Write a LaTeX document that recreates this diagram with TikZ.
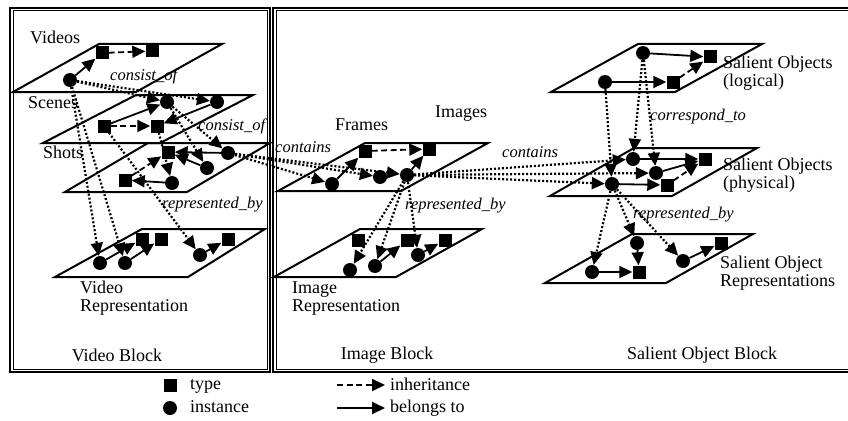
\documentclass[tikz,border=0pt]{standalone}
\usepackage{fontspec}
\setmainfont{Liberation Serif}
\usetikzlibrary{arrows.meta}
\begin{document}
\begin{tikzpicture}[x=1pt,y=-1pt,
  typ/.style={rectangle,fill=black,minimum size=13pt,inner sep=0pt},
  inst/.style={circle,fill=black,minimum size=14pt,inner sep=0pt},
  plane/.style={line width=2pt,line join=miter},
  tip/.style={-{Triangle[length=13pt,width=12pt]}},
  belongs/.style={tip,line width=1.8pt},
  inherit/.style={tip,line width=1.8pt,dash pattern=on 6pt off 3.5pt},
  rel/.style={tip,line width=2.2pt,dash pattern=on 2pt off 2pt},
  lbl/.style={font=\fontsize{18}{18}\selectfont,inner sep=0pt,align=left},
  ilbl/.style={font=\fontsize{16.5}{19}\selectfont\itshape,inner sep=0pt},
  frmout/.style={draw,line width=1.3pt},
  frmin/.style={draw,line width=0.6pt}
]
\useasboundingbox (0,0) rectangle (848,420);
% block frames (double lines)
\draw[frmout] (10,8) rectangle (270,372);
\draw[frmin] (12.8,10.8) rectangle (267.2,369.2);
\draw[frmout] (860,8) -- (273,8) -- (273,372) -- (860,372);
\draw[frmin] (860,10.8) -- (275.8,10.8) -- (275.8,369.2) -- (860,369.2);
% planes
\draw[plane] (13,92) -- (99,44) -- (222,44) -- (136,92) -- cycle;   % Videos
\draw[plane] (43,143) -- (136,95) -- (253,95) -- (160,143) -- cycle; % Scenes
\draw[plane] (65,192) -- (148,143) -- (270,143) -- (187,192) -- cycle; % Shots
\draw[plane] (55,277) -- (142,229) -- (265,229) -- (188,277) -- cycle; % Video rep
\draw[plane] (278,191) -- (365,143) -- (488,143) -- (401,191) -- cycle; % Frames
\draw[plane] (274,277) -- (360,229) -- (482,229) -- (396,277) -- cycle; % Image rep
\draw[plane] (551,92) -- (638,44) -- (762,44) -- (675,92) -- cycle; % logical
\draw[plane] (550,196) -- (634,148) -- (757,148) -- (672,196) -- cycle; % physical
\draw[plane] (545,283) -- (632,234) -- (753,234) -- (666,283) -- cycle; % SO rep
% nodes: Videos
\node[inst] (vi1) at (70,80) {};
\node[typ] (vt1) at (102,53) {};
\node[typ] (vt2) at (152,51) {};
% Scenes
\node[inst] (si1) at (167,102) {};
\node[inst] (si2) at (217,102) {};
\node[typ] (st1) at (104,126) {};
\node[typ] (st2) at (157,126) {};
% Shots
\node[typ] (sht1) at (125,180) {};
\node[typ] (sht2) at (168,152) {};
\node[inst] (shi1) at (172,183) {};
\node[inst] (shi2) at (207,168) {};
\node[inst] (shi3) at (228,153) {};
% Video rep
\node[inst] (vri1) at (100,263) {};
\node[inst] (vri2) at (125,263) {};
\node[inst] (vri3) at (200,255) {};
\node[typ] (vrt1) at (142,239) {};
\node[typ] (vrt2) at (161,239) {};
\node[typ] (vrt3) at (228,239) {};
% Frames
\node[typ] (ft1) at (365,151) {};
\node[typ] (ft2) at (429,149) {};
\node[inst] (fi1) at (332,184) {};
\node[inst] (fi2) at (380,177) {};
\node[inst] (fi3) at (407,175) {};
% Image rep
\node[typ] (irt1) at (358,240) {};
\node[typ] (irt2) at (407,240) {};
\node[typ] (irt3) at (445,240) {};
\node[inst] (iri1) at (350,270) {};
\node[inst] (iri2) at (375,266) {};
\node[inst] (iri3) at (418,255) {};
% logical
\node[inst] (li1) at (643,53) {};
\node[typ] (lt1) at (710,57) {};
\node[inst] (li2) at (605,82) {};
\node[typ] (lt2) at (673,82) {};
% physical
\node[inst] (pi1) at (633,159) {};
\node[typ] (pt1) at (705,159) {};
\node[inst] (pi2) at (656,173) {};
\node[inst] (pi3) at (612,184) {};
\node[typ] (pt2) at (667,185) {};
% SO rep
\node[inst] (sri1) at (592,272) {};
\node[typ] (srt1) at (639,272) {};
\node[inst] (sri2) at (637,243) {};
\node[inst] (sri3) at (683,261) {};
\node[typ] (srt2) at (721,243) {};
% connectors
\draw[belongs] (vi1) -- (vt1);
\draw[inherit] (vt1) -- (vt2);
\draw[rel] (vi1) -- (si1);
\draw[rel] (vi1) -- (si2);
\draw[rel] (vi1) -- (vri1);
\draw[rel] (vi1) -- (vri2);
\draw[inherit] (st1) -- (st2);
\draw[belongs] (st1) -- (si1);
\draw[belongs] (si2) -- (st2);
\draw[rel] (si1) -- (shi2);
\draw[rel] (si1) -- (shi3);
\draw[rel] (st2) -- (shi1);
\draw[rel] (st1) -- (vri3);
\draw[inherit] (sht1) -- (sht2);
\draw[belongs] (shi1) -- (sht1);
\draw[belongs] (shi2) -- (sht2);
\draw[belongs] (shi3) -- (sht2);
\draw[rel] (shi3) -- (fi1);
\draw[rel] (shi3) -- (fi2);
\draw[rel] (shi3) -- (fi3);
\draw[belongs] (vri1) -- (vrt1);
\draw[belongs] (vri2) -- (vrt2);
\draw[belongs] (vri3) -- (vrt3);
\draw[inherit] (ft1) -- (ft2);
\draw[belongs] (fi1) -- (ft1);
\draw[belongs] (fi3) -- (ft2);
\draw[rel] (fi3) -- (iri1);
\draw[rel] (fi3) -- (iri2);
\draw[rel] (fi3) -- (iri3);
\draw[rel] (fi3) -- (pi1);
\draw[rel] (fi3) -- (pi2);
\draw[rel] (fi3) -- (pi3);
\draw[belongs] (iri2) -- (irt2);
\draw[belongs] (iri3) -- (irt3);
\draw[belongs] (li1) -- (lt1);
\draw[belongs] (li2) -- (lt2);
\draw[inherit] (lt2) -- (lt1);
\draw[rel] (li1) -- (pi1);
\draw[rel] (li1) -- (pi2);
\draw[rel] (li2) -- (pi3);
\draw[belongs] (pi1) -- (pt1);
\draw[belongs] (pi2) -- (pt1);
\draw[belongs] (pi3) -- (pt2);
\draw[inherit] (pt2) -- (pt1);
\draw[rel] (pi3) -- (sri1);
\draw[rel] (pi3) -- (sri2);
\draw[rel] (pi3) -- (sri3);
\draw[belongs] (sri1) -- (srt1);
\draw[belongs] (sri2) -- (srt1);
\draw[belongs] (sri3) -- (srt2);
% labels
\node[lbl,anchor=north west] (tvid) at (30,31) {Videos};
\node[lbl,anchor=north west] (tsce) at (28,96) {Scenes};
\node[lbl,anchor=north west] (tsho) at (43,146) {Shots};
\node[lbl,anchor=north west] (tvr) at (80,281) {Video\\Representation};
\node[lbl] (tvb) at (117,355) {Video Block};
\node[lbl,anchor=north west] (tfr) at (335,119) {Frames};
\node[lbl,anchor=north west] (tim) at (435,106) {Images};
\node[lbl,anchor=north west] (tir) at (292,282) {Image\\Representation};
\node[lbl] (tib) at (387,355) {Image Block};
\node[lbl,anchor=north west] (tsl) at (723,56) {Salient Objects\\(logical)};
\node[lbl,anchor=north west] (tsp) at (723,158) {Salient Objects\\(physical)};
\node[lbl,anchor=north west] (tsr) at (720,256) {Salient Object\\Representations};
\node[lbl] (tsb) at (702,355) {Salient Object Block};
\node[ilbl,anchor=base west] (c1) at (110,80) {consist\_of};
\node[ilbl,anchor=base west] (c2) at (198,130) {consist\_of};
\node[ilbl,anchor=base west] (r1) at (162,208) {represented\_by};
\node[ilbl,anchor=base west] (k1) at (275,152) {contains};
\node[ilbl,anchor=base west] (k2) at (502,157) {contains};
\node[ilbl,anchor=base west] (r2) at (405,209) {represented\_by};
\node[ilbl,anchor=base west] (co) at (650,120) {correspond\_to};
\node[ilbl,anchor=base west] (r3) at (633,218) {represented\_by};
% legend
\node[typ] (lgt) at (170,385) {};
\node[lbl,anchor=base west] (lgtt) at (190,389) {type};
\node[inst] (lgi) at (170,408) {};
\node[lbl,anchor=base west] (lgit) at (190,412) {instance};
\coordinate (la1) at (337,385);
\coordinate (la2) at (385,385);
\coordinate (lb1) at (337,408);
\coordinate (lb2) at (385,408);
\draw[inherit] (la1) -- (la2);
\draw[belongs] (lb1) -- (lb2);
\node[lbl,anchor=base west] (lgih) at (390,390) {inheritance};
\node[lbl,anchor=base west] (lgbt) at (390,412) {belongs to};
\end{tikzpicture}
\end{document}
